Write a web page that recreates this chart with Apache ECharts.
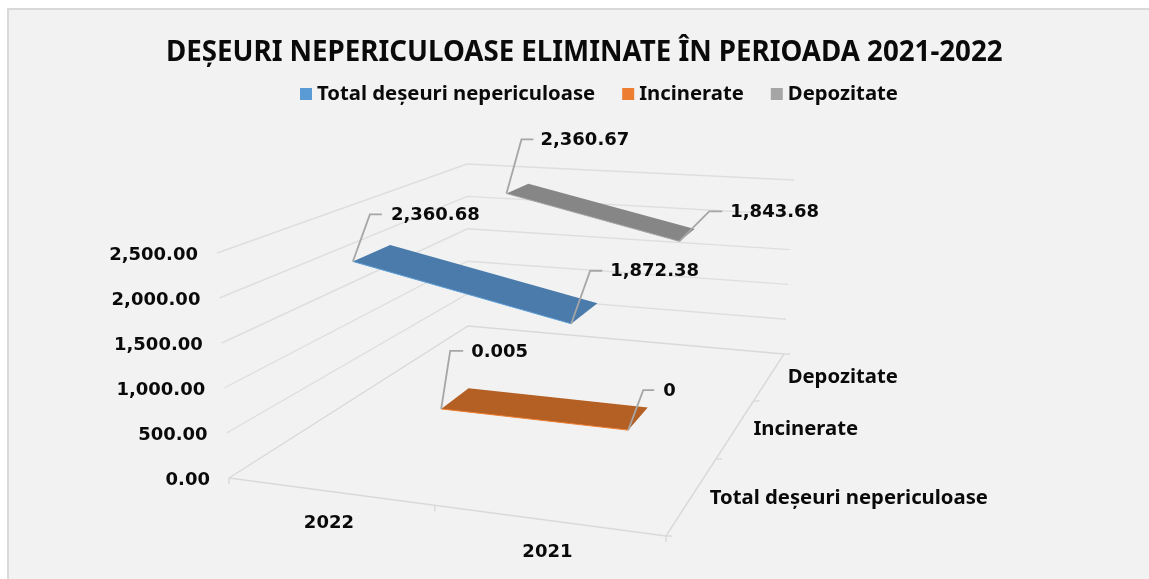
<!DOCTYPE html>
<html><head><meta charset="utf-8">
<style>html,body{margin:0;padding:0;background:#fff}#c{width:1149px;height:579px}</style>
<script src="https://cdn.jsdelivr.net/npm/echarts@6/dist/echarts.min.js"></script>
</head><body><div id="c"></div>
<script>
const titleText = 'DEȘEURI NEPERICULOASE ELIMINATE ÎN PERIOADA 2021-2022';
const years = ['2022', '2021'];
const seriesNames = ['Total deșeuri nepericuloase', 'Incinerate', 'Depozitate'];
const totalValues = [2360.68, 1872.38];
const incineratedValues = [0.005, 0];
const landfilledValues = [2360.67, 1843.68];
const valueTicks = [0, 500, 1000, 1500, 2000, 2500];

const FONT = '"Noto Sans", sans-serif';
const NUMFONT = '"DejaVu Sans", sans-serif';
const axisMax = 2500;
// 3D box: picture position of the eight corners [u, v, w]
const box = {
  '000': [229, 478], '100': [666, 536], '010': [468, 326], '110': [784, 354],
  '001': [217, 253], '101': [672, 288], '011': [467, 164], '111': [794, 180]
};
function project(u, v, w) {
  const out = [0, 0];
  for (let i = 0; i < 2; i++) {
    const k = (a, b, c) => box['' + a + b + c][i];
    const f0 = k(0,0,0)*(1-u)*(1-v) + k(1,0,0)*u*(1-v) + k(0,1,0)*(1-u)*v + k(1,1,0)*u*v;
    const f1 = k(0,0,1)*(1-u)*(1-v) + k(1,0,1)*u*(1-v) + k(0,1,1)*(1-u)*v + k(1,1,1)*u*v;
    out[i] = f0 + (f1 - f0) * w;
  }
  return out;
}
const uSpan = [0.235, 0.735];
const uTicks = [0, 0.471, 1];
const vTicks = [0, 0.423, 0.742, 1];
const vMid = [0.21, 0.58, 0.87];
const nameDy = [0, -1, 0];
const bands = [[0.13, 0.30], [0.52, 0.65], [0.83, 0.93]];
const fills = ['#4a7bab', '#b45f23', '#868686'];
const edges = ['#5b9bd5', '#ed7d31', '#a5a5a5'];
const legendColors = ['#5b9bd5', '#ed7d31', '#a5a5a5'];
const leaders = [
  [[17, -47, 29, 38], [19, -53, 31, 39]],
  [[9, -58, 22, 30], [15, -40, 26, 35]],
  [[15, -54, 27, 34], [30, -30, 43, 51]]
];
const numFmt = v => v.toLocaleString('en-US', {maximumFractionDigits: 3});
const tickFmt = v => v.toLocaleString('en-US', {minimumFractionDigits: 2, maximumFractionDigits: 2});
const textEl = (txt, x, y, align, size, family) => ({
  type: 'text', x, y,
  style: {text: txt, font: 'bold ' + size + 'px ' + family, fill: '#0a0a0a', align: align, verticalAlign: 'middle'}
});
const line = (pts, color, width) => ({
  type: 'polyline', shape: {points: pts},
  style: {stroke: color, lineWidth: width, fill: 'none'}
});

function renderFrame(params, api) {
  const P = (u, v, w) => api.coord(project(u, v, w));
  const ch = [];
  valueTicks.forEach(t => {
    const w = t / axisMax;
    if (t > 0) ch.push(line([P(0,0,w), P(0,1,w), P(1,1,w)], '#dedede', 1.4));
    const a = P(0,0,w);
    ch.push(textEl(tickFmt(t), a[0] - 19, a[1] + 2, 'right', 18, NUMFONT));
  });
  ch.push(line([P(0,0,0), P(0,1,0), P(1,1,0)], '#d9d9d9', 1.4));
  ch.push(line([P(0,0,0), P(1,0,0), P(1,1,0)], '#d9d9d9', 1.4));
  uTicks.forEach(u => { const a = P(u,0,0); ch.push(line([a, [a[0], a[1] + 6]], '#d9d9d9', 1.4)); });
  vTicks.forEach(v => { const a = P(1,v,0); ch.push(line([a, [a[0] + 6, a[1]]], '#d9d9d9', 1.4)); });
  years.forEach((y, i) => {
    const a = P((uTicks[i] + uTicks[i+1]) / 2, 0, 0);
    ch.push(textEl(y, a[0] - 3, a[1] + 32, 'center', 18, NUMFONT));
  });
  seriesNames.forEach((n, i) => {
    const a = P(1, vMid[i], 0);
    ch.push(textEl(n, a[0] + 19, a[1] + nameDy[i], 'left', 20.3, FONT));
  });
  return {type: 'group', children: ch};
}
function renderRibbon(idx) {
  return function (params, api) {
    const w0 = api.value(0) / axisMax, w1 = api.value(1) / axisMax;
    const [v0, v1] = bands[idx];
    const [uL, uR] = uSpan;
    const a = api.coord(project(uL, v0, w0)), b = api.coord(project(uR, v0, w1));
    const c = api.coord(project(uR, v1, w1)), d = api.coord(project(uL, v1, w0));
    const ch = [
      {type: 'polygon', shape: {points: [a, b, c, d]}, style: {fill: fills[idx]}},
      line([a, b], edges[idx], 1)
    ];
    [[a, api.value(0)], [b, api.value(1)]].forEach(([p, val], j) => {
      const [dx, dy, dx2, tx] = leaders[idx][j];
      ch.push(line([p, [p[0] + dx, p[1] + dy], [p[0] + dx2, p[1] + dy]], '#a6a6a6', 1.8));
      ch.push(textEl(numFmt(val), p[0] + tx, p[1] + dy + 1, 'left', 18, NUMFONT));
    });
    return {type: 'group', children: ch};
  };
}
const ribbonData = [totalValues, incineratedValues, landfilledValues];
const option = {
  animation: false,
  backgroundColor: '#ffffff',
  graphic: [{type: 'rect', z: -10, shape: {x: 8, y: 9, width: 1160, height: 600},
    style: {fill: '#f2f2f2', stroke: '#d9d9d9', lineWidth: 2}}],
  title: {text: titleText, left: 161, top: 34,
    textStyle: {fontFamily: FONT, fontWeight: 'bold', fontSize: 27.7, color: '#0a0a0a'}},
  legend: {data: seriesNames, top: 79, left: 295, icon: 'rect', itemWidth: 12, itemHeight: 12, itemGap: 27,
    selectedMode: false, textStyle: {fontFamily: FONT, fontWeight: 'bold', fontSize: 20.3, color: '#0a0a0a'}},
  grid: {left: 0, right: 0, top: 0, bottom: 0},
  xAxis: {type: 'value', min: 0, max: 1149, show: false},
  yAxis: {type: 'value', min: 0, max: 579, inverse: true, show: false},
  series: [
    {type: 'custom', name: 'frame', renderItem: renderFrame, data: [[0, 0]], clip: false, silent: true, z: 1}
  ].concat(seriesNames.map((n, i) => ({
    type: 'custom', name: n, renderItem: renderRibbon(i), data: [ribbonData[i]], clip: false, z: 2,
    itemStyle: {color: legendColors[i]}
  })))
};
echarts.init(document.getElementById('c')).setOption(option);
</script></body></html>
